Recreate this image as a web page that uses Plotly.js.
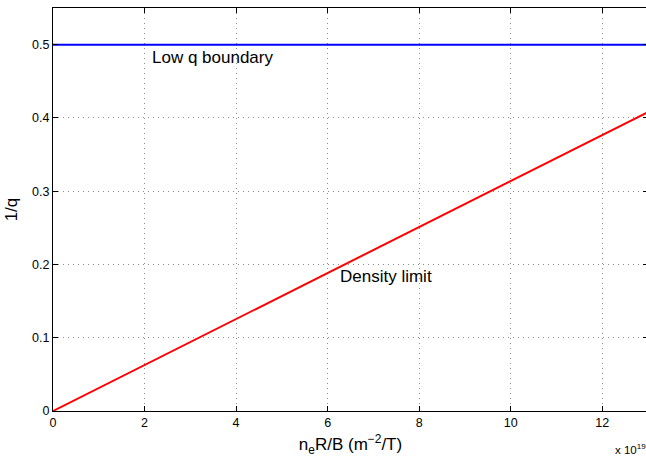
<!DOCTYPE html>
<html>
<head>
<meta charset="utf-8">
<script src="https://cdn.plot.ly/plotly-3.0.1.min.js"></script>
<style>
  html, body { margin: 0; padding: 0; overflow: hidden; background: #fff; }
  #chart { width: 648px; height: 460px; }
</style>
</head>
<body>
<div id="chart"></div>
<script>
// Operating limits in the (n_e R / B, 1/q) plane
const lowQX = [0, 13];
const lowQY = [0.5, 0.5];
const densityX = [0, 13];
const densityY = [0, 0.408];

const xTicks = [0, 2, 4, 6, 8, 10, 12];
const yTicks = [0, 0.1, 0.2, 0.3, 0.4, 0.5];

const font = 'Liberation Sans, Arial, Helvetica, sans-serif';

const traces = [
  { x: lowQX, y: lowQY, mode: 'lines', line: { color: '#0000ff', width: 2 }, hoverinfo: 'skip' },
  { x: densityX, y: densityY, mode: 'lines', line: { color: '#ff0000', width: 2 }, hoverinfo: 'skip' }
];

const axisCommon = {
  showline: true, linecolor: '#000', linewidth: 1, mirror: 'ticks',
  ticks: 'inside', ticklen: 5, tickcolor: '#000', tickwidth: 1,
  showgrid: true, gridcolor: '#8c8c8c', griddash: '1px,4px', gridwidth: 1,
  zeroline: false, tickfont: { family: font, size: 12.5, color: '#000' }
};

const layout = {
  width: 648, height: 460,
  margin: { l: 53, r: 0, t: 8, b: 49 },
  paper_bgcolor: '#fff', plot_bgcolor: '#fff',
  showlegend: false,
  font: { family: font, color: '#000' },
  xaxis: Object.assign({}, axisCommon, {
    range: [0, 13], tickvals: xTicks,
    title: { text: 'n<sub>e</sub>R/B (m<sup>\u22122</sup>/T)', font: { family: font, size: 17 }, standoff: 9 }
  }),
  yaxis: Object.assign({}, axisCommon, {
    range: [0, 0.55], tickvals: yTicks,
    title: { text: '1/q', font: { family: font, size: 17 }, standoff: 10 }
  }),
  annotations: [
    { x: 2.12, y: 0.482, xref: 'x', yref: 'y', text: 'Low q boundary', showarrow: false,
      xanchor: 'left', yanchor: 'middle', font: { family: font, size: 17 } },
    { x: 6.23, y: 0.183, xref: 'x', yref: 'y', text: 'Density limit', showarrow: false,
      xanchor: 'left', yanchor: 'middle', font: { family: font, size: 17 } },
    { x: 1, y: -0.094, xref: 'paper', yref: 'paper', text: 'x 10<sup>19</sup>', showarrow: false,
      xanchor: 'right', yanchor: 'middle', font: { family: font, size: 11.5 } }
  ]
};

Plotly.newPlot('chart', traces, layout, { staticPlot: true, displayModeBar: false });
</script>
</body>
</html>
